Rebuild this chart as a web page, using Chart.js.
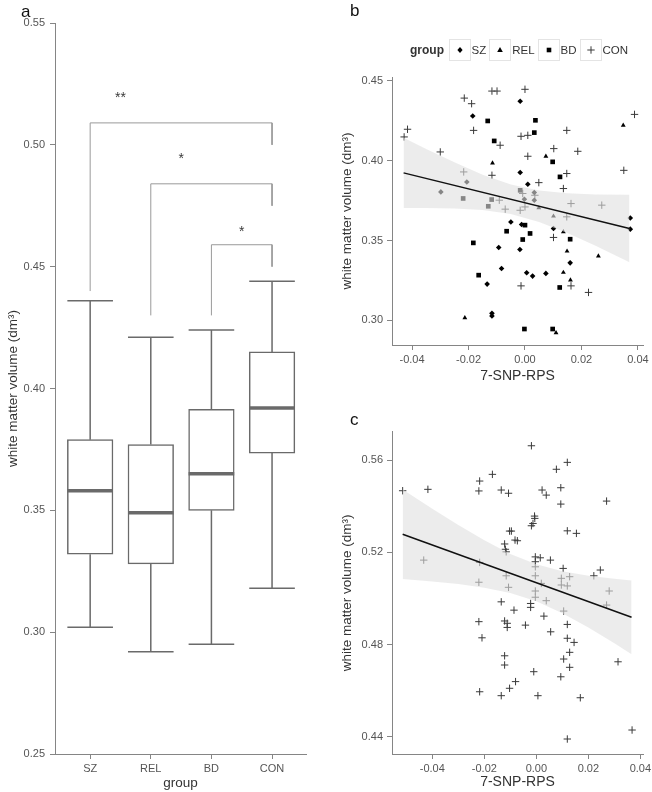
<!DOCTYPE html>
<html><head><meta charset="utf-8">
<script src="https://cdn.jsdelivr.net/npm/chart.js@4.4.1/dist/chart.umd.min.js"></script>
<style>
html,body{margin:0;padding:0;background:#fff;}
#wrap{position:relative;width:652px;height:792px;overflow:hidden;background:#fff;}
canvas{position:absolute;}
</style></head><body>
<div id="wrap">
<canvas id="ca" width="325" height="792" style="left:0;top:0;width:325px;height:792px"></canvas>
<canvas id="cb" width="322" height="390" style="left:330px;top:0;width:322px;height:390px"></canvas>
<canvas id="cc" width="322" height="397" style="left:330px;top:395px;width:322px;height:397px"></canvas>
</div>
<script>
// ---------- Panel a: box plot ----------
const groups = ['SZ', 'REL', 'BD', 'CON'];
const boxLow = [0.302, 0.292, 0.295, 0.318];
const boxQ1 = [0.332, 0.328, 0.350, 0.3735];
const boxMedian = [0.358, 0.349, 0.365, 0.392];
const boxQ3 = [0.379, 0.377, 0.3915, 0.415];
const boxHigh = [0.436, 0.421, 0.424, 0.444];
const sigFrom = [0, 1, 2];
const sigTo = [3, 3, 3];
const sigBarY = [0.509, 0.484, 0.459];
const sigFromEnd = [0.440, 0.430, 0.430];
const sigToEnd = [0.500, 0.475, 0.450];
const sigLabel = ['**', '*', '*'];
const sigLabelX = [0.5, 1.5, 2.5];
const sigLabelY = [0.520, 0.495, 0.465];
const yTicksA = [0.25, 0.30, 0.35, 0.40, 0.45, 0.50, 0.55];

// ---------- Panel b ----------
const szX = [-0.0017,-0.0185,-0.0017,0.0010,-0.0298,-0.0206,0.0033,-0.0002,0.0033,-0.0050,0.0101,-0.0093,-0.0018,-0.0083,0.0006,0.0027,0.0074,0.0160,-0.0134,-0.0117,-0.0117,0.0373,0.0373,-0.0012];
const szY = [0.4371,0.4279,0.3925,0.3852,0.3804,0.3866,0.3800,0.3758,0.3752,0.3616,0.3575,0.3456,0.3444,0.3325,0.3298,0.3277,0.3294,0.3360,0.3227,0.3044,0.3027,0.3641,0.3571,0.3600];
const relX = [0.0348,-0.0115,0.0074,0.0049,0.0101,0.0136,0.0149,0.0260,0.0136,0.0161,-0.0213,0.0110];
const relY = [0.4221,0.3985,0.4027,0.3704,0.3652,0.3554,0.3433,0.3402,0.3300,0.3252,0.3016,0.2922];
const bdX = [-0.0132,0.0037,0.0033,-0.0109,0.0098,0.0124,-0.0017,-0.0219,-0.0118,-0.0130,0.0000,-0.0065,0.0018,-0.0008,0.0160,-0.0183,-0.0164,0.0123,-0.0002,0.0098];
const bdY = [0.4248,0.4252,0.4175,0.4123,0.3992,0.3898,0.3814,0.3763,0.3756,0.3714,0.3596,0.3558,0.3544,0.3506,0.3508,0.3485,0.3283,0.3206,0.2946,0.2946];
const conBX = [-0.0428,-0.0416,-0.0300,-0.0215,-0.0189,-0.0117,-0.0099,0.0000,-0.0182,-0.0014,0.0010,-0.0088,0.0148,0.0102,0.0187,0.0010,0.0388,0.0350,-0.0217,-0.0117,0.0148,0.0049,0.0136,-0.0091,0.0163,0.0272,-0.0070,-0.0017,0.0000,0.0101,0.0148,-0.0014,0.0163,0.0225,-0.0008,0.0035];
const conBY = [0.4148,0.4196,0.4054,0.4391,0.4356,0.4435,0.4435,0.4446,0.4189,0.4152,0.4158,0.4096,0.4189,0.4075,0.4058,0.4027,0.4289,0.3939,0.3929,0.3908,0.3919,0.3862,0.3825,0.3752,0.3731,0.3721,0.3696,0.3689,0.3710,0.3519,0.3648,0.3216,0.3216,0.3175,0.3794,0.3783];
const fitBX = [-0.043, 0.037];
const fitBY = [0.3923, 0.3575];
const bandBX = [-0.043,-0.035,-0.025,-0.015,-0.005,0.005,0.015,0.025,0.037];
const bandBUpper = [0.4143,0.4073,0.3990,0.3912,0.3851,0.3812,0.3795,0.3787,0.3786];
const bandBLower = [0.3703,0.3703,0.3700,0.3690,0.3665,0.3616,0.3547,0.3467,0.3364];
const xTicksB = [-0.04, -0.02, 0.00, 0.02, 0.04];
const yTicksB = [0.30, 0.35, 0.40, 0.45];

// ---------- Panel c ----------
const conCX = [-0.0514,-0.0417,-0.0019,0.0119,0.0077,-0.0169,-0.0218,-0.0221,-0.0135,-0.0107,0.0022,0.0038,0.0094,0.0094,0.0270,-0.0007,-0.0006,-0.0013,-0.0019,-0.0103,-0.0096,0.0119,0.0154,-0.0082,-0.0073,-0.0122,-0.0119,-0.0116,-0.0433,-0.0218,-0.0004,0.0015,0.0054,-0.0004,-0.0004,0.0103,0.0246,0.0221,-0.0004,-0.0116,0.0128,0.0096,-0.0221,0.0019,0.0096,0.0119,-0.0107,-0.0004,0.0280,-0.0004,0.0270,-0.0135,-0.0086,-0.0022,-0.0022,0.0038,0.0029,0.0105,-0.0221,-0.0122,-0.0112,-0.0112,-0.0042,0.0119,0.0055,-0.0209,0.0119,0.0145,0.0128,-0.0122,0.0105,0.0314,-0.0122,0.0128,-0.0010,0.0094,-0.0080,-0.0103,-0.0218,-0.0135,0.0006,0.0169,0.0368,0.0119];
const conCY = [0.5467,0.5473,0.5662,0.5590,0.5560,0.5538,0.5509,0.5466,0.5470,0.5456,0.5470,0.5448,0.5480,0.5409,0.5422,0.5357,0.5347,0.5325,0.5315,0.5292,0.5292,0.5293,0.5282,0.5253,0.5250,0.5236,0.5213,0.5202,0.5166,0.5156,0.5180,0.5176,0.5166,0.5159,0.5137,0.5130,0.5123,0.5098,0.5098,0.5098,0.5094,0.5087,0.5070,0.5065,0.5058,0.5054,0.5048,0.5032,0.5032,0.5005,0.4971,0.4985,0.4949,0.4978,0.4961,0.4990,0.4923,0.4945,0.4899,0.4902,0.4892,0.4874,0.4884,0.4887,0.4855,0.4829,0.4827,0.4809,0.4766,0.4751,0.4737,0.4725,0.4711,0.4701,0.4682,0.4660,0.4639,0.4610,0.4595,0.4578,0.4578,0.4569,0.4429,0.4390];
const fitCX = [-0.0514, 0.0366];
const fitCY = [0.5278, 0.4918];
const bandCX = [-0.0514,-0.04,-0.03,-0.02,-0.01,0.0,0.01,0.02,0.03,0.0366];
const bandCUpper = [0.5472,0.5389,0.5318,0.5252,0.5193,0.5148,0.5118,0.5098,0.5085,0.5078];
const bandCLower = [0.5084,0.5073,0.5062,0.5046,0.5023,0.4988,0.4936,0.4874,0.4805,0.4758];
const xTicksC = [-0.04, -0.02, 0.00, 0.02, 0.04];
const yTicksC = [0.44, 0.48, 0.52, 0.56];

// ---------- common styling ----------
const FONT = '"Liberation Sans", Arial, Helvetica, sans-serif';
const tickColor = '#555';
const axisColor = '#858585';
const titleColor = '#333';
const yTitle = 'white matter volume (dm³)';
const boxColor = '#6a6a6a';
const bandFill = 'rgba(224,224,224,0.6)';

function pts(xs, ys) { return xs.map((x, i) => ({ x: x, y: ys[i] })); }
function fixedTicks(arr) { return s => { s.ticks = arr.map(v => ({ value: v })); }; }

function axis(opts) {
  return Object.assign({
    type: 'linear',
    offset: false,
    grid: { display: true, offset: false, drawOnChartArea: false, drawTicks: true, tickLength: 5, color: axisColor, lineWidth: 1 },
    border: { display: true, color: axisColor, width: 1 },
  }, opts);
}
function fitX(h) { return s => { s.height = h; s.paddingLeft = 0; s.paddingRight = 0; }; }
function fitY(w) { return s => { s.width = w; s.paddingTop = 0; s.paddingBottom = 0; }; }

function panelLabel(text, x, y) {
  return {
    id: 'lbl' + text,
    afterDraw(chart) {
      const ctx = chart.ctx;
      ctx.save();
      ctx.font = '17px ' + FONT;
      ctx.fillStyle = '#111';
      ctx.textBaseline = 'alphabetic';
      ctx.fillText(text, x, y);
      ctx.restore();
    }
  };
}

// ---------- Chart A ----------
const whiskerData = [];
groups.forEach((g, i) => {
  whiskerData.push({ x: i, y: boxQ3[i] }, { x: i, y: boxHigh[i] }, { x: i, y: null });
  whiskerData.push({ x: i, y: boxQ1[i] }, { x: i, y: boxLow[i] }, { x: i, y: null });
});
const capData = [];
groups.forEach((g, i) => { capData.push({ x: i, y: boxHigh[i] }, { x: i, y: boxLow[i] }); });
const bracketData = [];
sigFrom.forEach((f, k) => {
  bracketData.push({ x: f, y: sigFromEnd[k] }, { x: f, y: sigBarY[k] }, { x: sigTo[k], y: sigBarY[k] }, { x: sigTo[k], y: sigToEnd[k] }, { x: f, y: null });
});

const starPlugin = {
  id: 'stars',
  afterDatasetsDraw(chart) {
    const ctx = chart.ctx;
    const xs = chart.scales.x, ys = chart.scales.y;
    ctx.save();
    ctx.font = '14px ' + FONT;
    ctx.fillStyle = '#3a3a3a';
    ctx.textAlign = 'center';
    ctx.textBaseline = 'alphabetic';
    sigLabel.forEach((t, k) => {
      ctx.fillText(t, xs.getPixelForValue(sigLabelX[k]), ys.getPixelForValue(sigLabelY[k]) + 6);
    });
    ctx.restore();
  }
};

new Chart(document.getElementById('ca'), {
  type: 'scatter',
  data: {
    datasets: [
      { type: 'scatter', data: groups.map((g, i) => ({ x: i, y: boxMedian[i] })), pointStyle: 'line', pointRadius: 22.8, borderColor: boxColor, borderWidth: 3.5 },
      { type: 'scatter', data: capData, pointStyle: 'line', pointRadius: 22.8, borderColor: boxColor, borderWidth: 1.5 },
      { type: 'line', data: whiskerData, borderColor: boxColor, borderWidth: 1.5, pointRadius: 0, spanGaps: false, fill: false },
      { type: 'line', data: bracketData, borderColor: '#9a9a9a', borderWidth: 1, pointRadius: 0, spanGaps: false, fill: false },
      { type: 'bar', data: groups.map((g, i) => ({ x: i, y: [boxQ1[i], boxQ3[i]] })), backgroundColor: '#fff', borderColor: boxColor, borderWidth: 1.5, borderSkipped: false, barThickness: 45.6, grouped: false }
    ]
  },
  options: {
    responsive: false, animation: false, devicePixelRatio: 1, events: [],
    layout: { autoPadding: false, padding: { top: 23, right: 19, left: 0, bottom: 0 } },
    plugins: { legend: { display: false }, tooltip: { enabled: false } },
    scales: {
      x: axis({
        min: -0.58, max: 3.56,
        afterBuildTicks: fixedTicks([0, 1, 2, 3]),
        afterFit: fitX(38),
        ticks: { callback: v => groups[v], font: { family: FONT, size: 11 }, color: tickColor, padding: 3, maxRotation: 0, autoSkip: false },
        title: { display: true, text: 'group', font: { family: FONT, size: 13.5 }, color: titleColor, padding: { top: 0, bottom: 1 } }
      }),
      y: axis({
        min: 0.25, max: 0.55,
        afterBuildTicks: fixedTicks(yTicksA),
        afterFit: fitY(55),
        ticks: { callback: v => v.toFixed(2), font: { family: FONT, size: 11 }, color: tickColor, padding: 5 },
        title: { display: true, text: yTitle, font: { family: FONT, size: 13.5 }, color: titleColor, padding: { top: 5, bottom: 0 } }
      })
    }
  },
  plugins: [starPlugin, panelLabel('a', 21, 17)]
});

// ---------- legend symbol helper ----------
function drawSym(ctx, kind, x, y) {
  ctx.save();
  ctx.fillStyle = '#000';
  ctx.strokeStyle = '#3a3a3a';
  ctx.lineWidth = 1;
  ctx.beginPath();
  if (kind === 'diamond') {
    ctx.moveTo(x, y - 3); ctx.lineTo(x + 2.6, y); ctx.lineTo(x, y + 3); ctx.lineTo(x - 2.6, y); ctx.closePath(); ctx.fill();
  } else if (kind === 'triangle') {
    ctx.moveTo(x, y - 3); ctx.lineTo(x + 2.8, y + 2); ctx.lineTo(x - 2.8, y + 2); ctx.closePath(); ctx.fill();
  } else if (kind === 'square') {
    ctx.rect(x - 2.3, y - 2.3, 4.6, 4.6); ctx.fill();
  } else {
    ctx.moveTo(x - 3.7, y); ctx.lineTo(x + 3.7, y); ctx.moveTo(x, y - 3.7); ctx.lineTo(x, y + 3.7); ctx.stroke();
  }
  ctx.restore();
}

const legendPlugin = {
  id: 'groupLegend',
  afterDraw(chart) {
    const ctx = chart.ctx;
    ctx.save();
    ctx.textBaseline = 'middle';
    ctx.fillStyle = '#333';
    ctx.font = 'bold 12px ' + FONT;
    ctx.fillText('group', 80, 51);
    ctx.font = '11.5px ' + FONT;
    const items = [['diamond', groups[0]], ['triangle', groups[1]], ['square', groups[2]], ['plus', groups[3]]];
    let x = 118.5;
    items.forEach(it => {
      ctx.strokeStyle = '#e4e4e4';
      ctx.lineWidth = 1;
      ctx.strokeRect(Math.round(x) + 0.5, 39.5, 21, 21);
      drawSym(ctx, it[0], Math.round(x) + 11, 50);
      x += 23;
      ctx.fillStyle = '#333';
      ctx.fillText(it[1], x, 51);
      x += ctx.measureText(it[1]).width + 3;
    });
    ctx.restore();
  }
};

function scatterOpts(cfg) {
  return {
    responsive: false, animation: false, devicePixelRatio: 1, events: [],
    layout: { autoPadding: false, padding: { top: cfg.top, right: 9, left: 0, bottom: 0 } },
    plugins: { legend: { display: false }, tooltip: { enabled: false } },
    scales: {
      x: axis({
        min: cfg.xmin, max: cfg.xmax,
        afterBuildTicks: fixedTicks(cfg.xticks),
        afterFit: fitX(cfg.xh),
        ticks: { callback: v => v.toFixed(2), font: { family: FONT, size: 11 }, color: tickColor, padding: 3, maxRotation: 0, autoSkip: false },
        title: { display: true, text: '7-SNP-RPS', font: { family: FONT, size: 14 }, color: titleColor, padding: { top: 0, bottom: cfg.xtpad } }
      }),
      y: axis({
        min: cfg.ymin, max: cfg.ymax,
        afterBuildTicks: fixedTicks(cfg.yticks),
        afterFit: fitY(62),
        ticks: { callback: v => v.toFixed(2), font: { family: FONT, size: 11 }, color: tickColor, padding: 4 },
        title: { display: true, text: yTitle, font: { family: FONT, size: 13.5 }, color: titleColor, padding: { top: 9.5, bottom: 0 } }
      })
    }
  };
}

function fitSets(fx, fy, bx, bu, bl) {
  return [
    { type: 'line', data: pts(fx, fy), borderColor: '#111', borderWidth: 1.5, pointRadius: 0, fill: false },
    { type: 'line', data: pts(bx, bu), borderColor: 'rgba(0,0,0,0)', borderWidth: 0, pointRadius: 0, fill: '+1', backgroundColor: bandFill },
    { type: 'line', data: pts(bx, bl), borderColor: 'rgba(0,0,0,0)', borderWidth: 0, pointRadius: 0, fill: false }
  ];
}

// ---------- Chart B ----------
new Chart(document.getElementById('cb'), {
  type: 'scatter',
  data: {
    datasets: fitSets(fitBX, fitBY, bandBX, bandBUpper, bandBLower).concat([
      { type: 'scatter', data: pts(szX, szY), pointStyle: 'rectRot', pointRadius: 2.8, backgroundColor: '#000', borderColor: '#000', borderWidth: 0 },
      { type: 'scatter', data: pts(relX, relY), pointStyle: 'triangle', pointRadius: 2.8, backgroundColor: '#000', borderColor: '#000', borderWidth: 0 },
      { type: 'scatter', data: pts(bdX, bdY), pointStyle: 'rect', pointRadius: 3.3, backgroundColor: '#000', borderColor: '#000', borderWidth: 0 },
      { type: 'scatter', data: pts(conBX, conBY), pointStyle: 'cross', pointRadius: 3.7, borderColor: '#3a3a3a', borderWidth: 1 }
    ])
  },
  options: scatterOpts({ top: 77, xmin: -0.0471, xmax: 0.0418, ymin: 0.2846, ymax: 0.4523, xticks: xTicksB, yticks: yTicksB, xh: 45, xtpad: 5.5 }),
  plugins: [legendPlugin, panelLabel('b', 20, 16)]
});

// ---------- Chart C ----------
new Chart(document.getElementById('cc'), {
  type: 'scatter',
  data: {
    datasets: fitSets(fitCX, fitCY, bandCX, bandCUpper, bandCLower).concat([
      { type: 'scatter', data: pts(conCX, conCY), pointStyle: 'cross', pointRadius: 3.7, borderColor: '#3a3a3a', borderWidth: 1 }
    ])
  },
  options: scatterOpts({ top: 36.7, xmin: -0.0555, xmax: 0.041, ymin: 0.4325, ymax: 0.5723, xticks: xTicksC, yticks: yTicksC, xh: 38, xtpad: 1 }),
  plugins: [panelLabel('c', 20, 30)]
});
</script>
</body></html>
